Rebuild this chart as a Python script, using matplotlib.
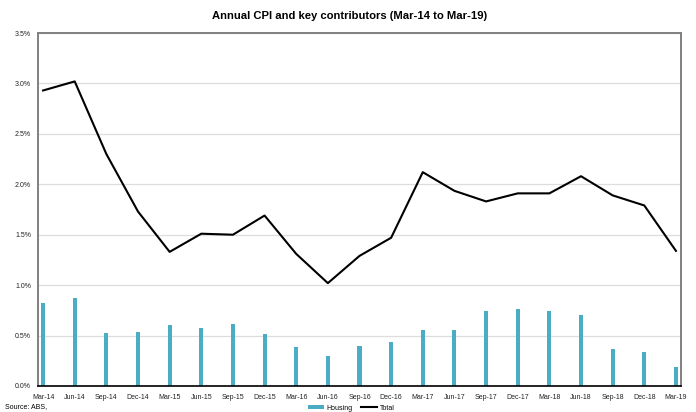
import matplotlib
matplotlib.use("Agg")
import matplotlib.pyplot as plt
from matplotlib.ticker import FuncFormatter, MultipleLocator
from matplotlib.lines import Line2D
from matplotlib.patches import Patch

plt.rcParams['font.family'] = ['Liberation Sans', 'DejaVu Sans']

quarters = ["Mar-14", "Jun-14", "Sep-14", "Dec-14", "Mar-15", "Jun-15", "Sep-15", "Dec-15",
            "Mar-16", "Jun-16", "Sep-16", "Dec-16", "Mar-17", "Jun-17", "Sep-17", "Dec-17",
            "Mar-18", "Jun-18", "Sep-18", "Dec-18", "Mar-19"]
housing = [0.82, 0.875, 0.525, 0.54, 0.60, 0.58, 0.615, 0.515,
           0.385, 0.30, 0.40, 0.44, 0.56, 0.555, 0.745, 0.76,
           0.74, 0.70, 0.365, 0.34, 0.19]
total = [2.93, 3.02, 2.30, 1.73, 1.33, 1.51, 1.50, 1.69,
         1.31, 1.02, 1.29, 1.47, 2.12, 1.935, 1.83, 1.91,
         1.91, 2.08, 1.89, 1.79, 1.34]

W, H = 696, 412
fig = plt.figure(figsize=(W / 100, H / 100), dpi=100)
ax = fig.add_axes([38 / W, 1 - 386 / H, (681 - 38) / W, (386 - 33) / H])

x = list(range(len(quarters)))
ax.bar(x, housing, width=0.13, color="#4bacc6", zorder=2)
ax.plot(x, total, color="black", lw=1.5, zorder=3)

ax.set_xlim(-0.16, len(quarters) - 1 + 0.16)
ax.set_ylim(0, 3.5)
ax.yaxis.set_major_locator(MultipleLocator(0.5))
ax.yaxis.set_major_formatter(FuncFormatter(lambda v, p: f"{v:.1f}%"))
ax.set_xticks(x)
ax.set_xticklabels(quarters)
ax.tick_params(axis="both", length=0, labelsize=5, colors="#222222")
ax.tick_params(axis="x", pad=6)
ax.tick_params(axis="y", pad=5)
ax.grid(axis="y", color="#dddddd", lw=0.9, zorder=0)
ax.set_axisbelow(True)
for s in ["left", "top", "right"]:
    ax.spines[s].set_color("#808080")
    ax.spines[s].set_linewidth(1.4)
ax.spines["bottom"].set_color("black")
ax.spines["bottom"].set_linewidth(1.2)

fig.text(350 / W, 1 - 16 / H, "Annual CPI and key contributors (Mar-14 to Mar-19)",
         ha="center", va="center", fontsize=8.1, fontweight="bold")
fig.text(5 / W, 1 - 407 / H, "Source: ABS,", ha="left", va="center", fontsize=5)

handles = [Patch(facecolor="#4bacc6", label="Housing"),
           Line2D([0], [0], color="black", lw=1.5, label="Total")]
fig.legend(handles=handles, loc="center", bbox_to_anchor=(351 / W, 1 - 408 / H),
           ncol=2, frameon=False, fontsize=5, handlelength=2.4, handleheight=0.6,
           columnspacing=1.2, handletextpad=0.3)

fig.savefig("out.png", dpi=100)
